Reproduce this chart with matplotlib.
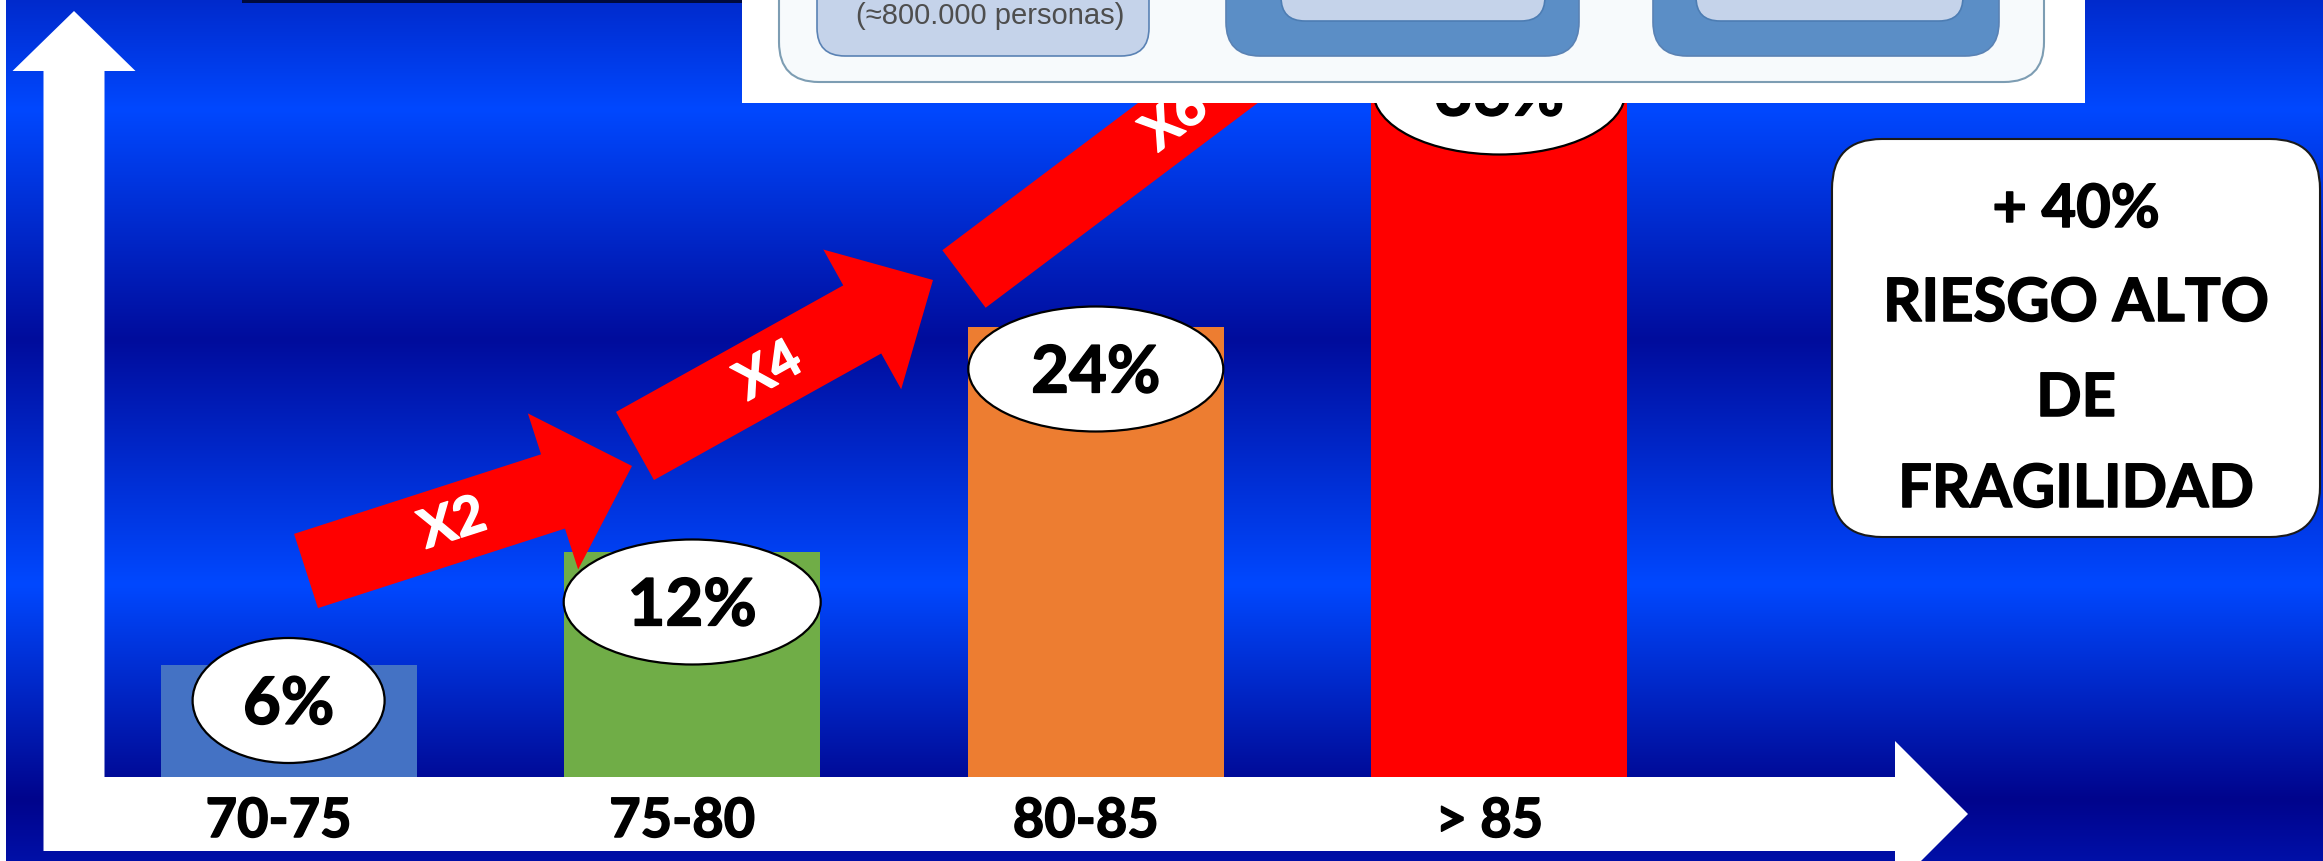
import numpy as np
import matplotlib
matplotlib.use('Agg')
import matplotlib.pyplot as plt
import matplotlib.transforms as mtransforms
import matplotlib.patheffects as pe
from matplotlib.patches import Rectangle, Ellipse, FancyArrow, FancyBboxPatch

# ── Datos ──────────────────────────────────────────────
age_groups  = ['70-75', '75-80', '80-85', '> 85']
frailty_pct = [6, 12, 24, 36]
bar_colors  = ['#4472C4', '#70AD47', '#ED7D31', '#FF0000']
multipliers = ['X2', 'X4', 'X6']
box_lines   = ['+ 40%', 'RIESGO ALTO', 'DE', 'FRAGILIDAD']
panel_note  = '(≈800.000 personas)'

# ── Lienzo: PX = píxeles con origen arriba a la izquierda ──
W, H = 2323, 862
fig = plt.figure(figsize=(W / 100, H / 100), dpi=100)
PX = mtransforms.Affine2D().scale(1 / W, -1 / H).translate(0, 1) + fig.transFigure
FONT = 'Lato'


def heavy(color='black', lw=1.1):
    # engrosa un poco el trazo de la negrita
    return [pe.withStroke(linewidth=lw, foreground=color)]


# ── Fondo degradado azul ───────────────────────────────
stops_y = [0, 110, 340, 585, 800, 862]
stops_rgb = np.array([[0x00, 0x2a, 0xcc], [0x00, 0x48, 0xff], [0x00, 0x0c, 0x9c],
                      [0x00, 0x48, 0xff], [0x00, 0x04, 0x8c], [0x00, 0x10, 0xa8]]) / 255
yy = np.arange(H)
grad = np.stack([np.interp(yy, stops_y, stops_rgb[:, c]) for c in range(3)], axis=-1)[:, None, :]
ax_bg = fig.add_axes([0, 0, 1, 1], zorder=0)
ax_bg.imshow(grad, aspect='auto', extent=(0, W, H, 0), interpolation='bilinear')
ax_bg.axis('off')

# ── Ejes de datos (ocupan toda la figura) ──────────────
X0, STEP = 288.6, 403.6    # centro de la 1ª barra y separación [px]
BASE, PPU = 778, 18.75     # línea base [px desde arriba] y px por punto %
ax = fig.add_axes([0, 0, 1, 1], zorder=1)
ax.patch.set_visible(False)
ax.set_xlim(-X0 / STEP, (W - X0) / STEP)
ax.set_ylim(-(H - BASE) / PPU, BASE / PPU)
ax.axis('off')

# flechas blancas que hacen de ejes
ax.add_patch(Rectangle((0, 0), 6, H, transform=PX, color='white', lw=0, zorder=1, clip_on=False))
ax.add_patch(FancyArrow(74, 852, 0, -840, width=61, head_width=123, head_length=60,
                        length_includes_head=True, transform=PX, color='white', lw=0,
                        zorder=2, clip_on=False))
ax.add_patch(FancyArrow(44, 815, 1924, 0, width=74, head_width=146, head_length=73,
                        length_includes_head=True, transform=PX, color='white', lw=0,
                        zorder=2, clip_on=False))

# barras
x = np.arange(len(age_groups))
ax.bar(x, frailty_pct, width=256 / STEP, color=bar_colors, zorder=3)

# rótulos de edad sobre la flecha horizontal
xlab = mtransforms.blended_transform_factory(ax.transData, PX)
for i, lab in enumerate(age_groups):
    ax.text(i - 0.025, 838, lab, transform=xlab, ha='center', va='baseline',
            fontsize=39, fontweight='bold', family=FONT, zorder=6,
            path_effects=heavy())

# etiquetas en óvalo
label_drop = [36, 50, 42, -10]      # centro del óvalo bajo el tope de la barra [px]
ellipse_w  = [192, 257, 255, 252]
PCT_FS = 47
cap = 0.7165 * PCT_FS * 100 / 72
for i, (v, d, ew) in enumerate(zip(frailty_pct, label_drop, ellipse_w)):
    anchor = mtransforms.ScaledTranslation(i, v, ax.transData)
    ax.add_patch(Ellipse((0, -d), ew, 125, transform=anchor, fc='white', ec='black',
                         lw=1.6, zorder=5, clip_on=False))
    ax.annotate(f'{v}%', (i, v), xytext=(0, -d - cap / 2), textcoords='offset pixels',
                ha='center', va='baseline', fontsize=PCT_FS, fontweight='bold',
                family=FONT, zorder=6, path_effects=heavy())

# flechas rojas de multiplicación
arrows = [((306, 572), (632, 467), 78, 164, 83),
          ((635, 447), (933, 281), 78, 160, 81),
          ((964, 280), (1433, -73), 72, 160, 82)]
for lab, ((x0, y0), (x1, y1), w, hw, hl) in zip(multipliers, arrows):
    ax.add_patch(FancyArrow(x0, y0, x1 - x0, y1 - y0, width=w, head_width=hw, head_length=hl,
                            length_includes_head=True, transform=PX, color='#FF0000', lw=0,
                            zorder=4, clip_on=False))
    ang = np.degrees(np.arctan2(y0 - y1, x1 - x0))
    ax.text(x0 + 0.45 * (x1 - x0), y0 + 0.45 * (y1 - y0), lab, transform=PX,
            rotation=ang, rotation_mode='anchor', ha='center', va='center',
            color='white', fontsize=38, fontweight='bold', family=FONT, zorder=6,
            path_effects=heavy('white'))

# recuadro de la derecha
ax.add_patch(FancyBboxPatch((1832, 140), 488, 398, boxstyle='round,pad=0,rounding_size=50',
                            transform=PX, fc='white', ec='#1a1a1a', lw=1.5, zorder=7,
                            clip_on=False))
for line, base in zip(box_lines, [228, 322, 417, 508]):
    ax.text(2076, base, line, transform=PX, ha='center', va='baseline', fontsize=43,
            fontweight='bold', family=FONT, zorder=8, path_effects=heavy())

# panel superior (esquema recortado)
ax.add_patch(Rectangle((242, 0), 500, 4, transform=PX, color='#000a3c', lw=0, zorder=9, clip_on=False))
ax.add_patch(Rectangle((742, 0), 1343, 104, transform=PX, color='white', lw=0, zorder=10, clip_on=False))
ax.add_patch(FancyBboxPatch((779, -60), 1265, 143, boxstyle='round,pad=0,rounding_size=40',
                            transform=PX, fc='#f7fafc', ec='#7d9db3', lw=1.5, zorder=11,
                            clip_on=False))
LIGHT, MID, EDGE = '#c5d3ea', '#5b8ec6', '#5a82b4'
ax.add_patch(FancyBboxPatch((817, -40), 332, 97, boxstyle='round,pad=0,rounding_size=28',
                            transform=PX, fc=LIGHT, ec=EDGE, lw=1.2, zorder=12, clip_on=False))
for ox, ow, ix, iw in [(1226, 353, 1281, 264), (1653, 346, 1696, 267)]:
    ax.add_patch(FancyBboxPatch((ox, -40), ow, 97, boxstyle='round,pad=0,rounding_size=34',
                                transform=PX, fc=MID, ec=EDGE, lw=1.2, zorder=12, clip_on=False))
    ax.add_patch(FancyBboxPatch((ix, -40), iw, 62, boxstyle='round,pad=0,rounding_size=24',
                                transform=PX, fc=LIGHT, ec='#4d7db3', lw=1.2, zorder=13,
                                clip_on=False))
ax.text(990, 16, panel_note, transform=PX, ha='center', va='center', fontsize=21,
        color='#4e4e4e', family=['Liberation Sans', 'DejaVu Sans'], zorder=14)

fig.savefig('out.png', dpi=100)
